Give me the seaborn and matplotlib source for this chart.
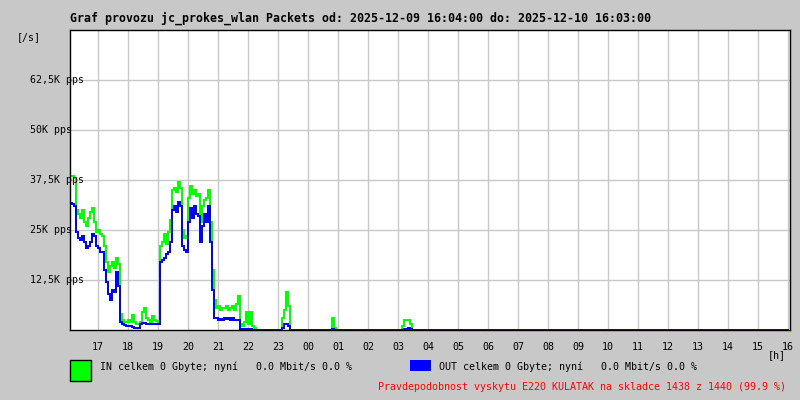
import pandas as pd
import matplotlib.pyplot as plt
import matplotlib.transforms as mtransforms
from matplotlib.patches import Rectangle
import seaborn as sns

title = "Graf provozu jc_prokes_wlan Packets od: 2025-12-09 16:04:00 do: 2025-12-10 16:03:00"
start = "2025-12-09 16:04"
first_hour = "2025-12-09 17:00"
hour_labels = ["17", "18", "19", "20", "21", "22", "23", "00", "01", "02", "03", "04",
               "05", "06", "07", "08", "09", "10", "11", "12", "13", "14", "15", "16"]
y_ticks = [12500, 25000, 37500, 50000, 62500]
y_labels = ["12,5K pps", "25K pps", "37,5K pps", "50K pps", "62,5K pps"]
in_text = "IN celkem 0 Gbyte; nyní   0.0 Mbit/s 0.0 %"
out_text = "OUT celkem 0 Gbyte; nyní   0.0 Mbit/s 0.0 %"
note = "Pravdepodobnost vyskytu E220 KULATAK na skladce 1438 z 1440 (99.9 %)"

# packets per second (thousands), one sample every 4 minutes from 16:04
in_k = ([38.5, 38.5, 38, 30, 29, 28, 30, 27, 26, 28,
         29.5, 30.5, 27, 24.5, 25, 24, 23.5, 21, 17, 14.5,
         16, 17, 15.5, 18, 16.5, 4, 2.5, 2, 2, 2.5,
         2, 3.7, 2, 1.5, 1.5, 2, 4.5, 5.5, 3, 2.5,
         2, 3.5, 2.5, 2.2, 2, 21, 22, 24, 21.5, 24.5,
         27.5, 35, 35.5, 34.5, 37, 35.5, 25, 23, 23.5, 33,
         36, 34, 35, 33.5, 34, 27, 31, 32.5, 33, 35,
         27, 15, 7.5, 5.5, 6, 5, 5.5, 5.5, 6, 5,
         5.5, 6, 5, 6.5, 8.5, 1.5, 1, 2, 4.5, 1.5,
         4.5, 1, 0.5]
        + [0] * 13 + [3, 5, 9.5, 6]
        + [0] * 21 + [3, 0.5]
        + [0] * 33 + [1, 2.5, 2.5, 2.5, 1.5]
        + [0] * 189)
out_k = ([31.7, 31.5, 31, 24.5, 23, 22.5, 23.5, 22, 20.5, 21,
          22, 24, 23.5, 21, 20.5, 19.5, 19.5, 15, 12, 9,
          7.5, 10, 9.5, 14.5, 11, 2, 1.5, 1.2, 1, 1,
          1, 0.8, 0.6, 0.5, 0.5, 1.5, 1.8, 1.8, 1.5, 1.5,
          1.5, 1.5, 1.5, 1.5, 1.5, 17, 17.5, 18, 19, 19.5,
          22, 30, 31, 29.5, 32, 31, 21, 20, 19.5, 27,
          30.5, 28, 31, 29, 28.5, 22, 26, 29, 27, 31,
          22, 10, 3, 3, 2.5, 2.8, 2.5, 3, 2.8, 3,
          2.5, 3, 2.5, 2.5, 2.5, 0.3, 0, 0.3, 0.3, 0.2,
          0.3, 0, 0]
         + [0] * 13 + [0.5, 1.5, 1.5, 1]
         + [0] * 21 + [0.3, 0]
         + [0] * 33 + [0, 0.3, 0.3, 0.5, 0.3]
         + [0] * 189)

times = pd.date_range(start, periods=len(in_k), freq="4min")
df = pd.concat([
    pd.DataFrame({"cas": times, "pps": [v * 1000 for v in in_k], "smer": "IN"}),
    pd.DataFrame({"cas": times, "pps": [v * 1000 for v in out_k], "smer": "OUT"}),
])

sns.set_style("white")
plt.rcParams["font.family"] = ["DejaVu Sans Mono", "DejaVu Sans"]
plt.rcParams["text.color"] = "black"
plt.rcParams["xtick.color"] = "black"
plt.rcParams["ytick.color"] = "black"

W, H = 800, 400
fig = plt.figure(figsize=(8, 4), dpi=100, facecolor="#c8c8c8")
ax = fig.add_axes([70 / W, 1 - 330 / H, 720 / W, 300 / H])
ax.set_facecolor("white")

sns.lineplot(data=df, x="cas", y="pps", hue="smer",
             palette={"IN": "#00ff00", "OUT": "#0000ff"},
             drawstyle="steps-post", linewidth=1.1, antialiased=False,
             legend=False, ax=ax)

ax.set_xlim(pd.Timestamp(start), pd.Timestamp(start) + pd.Timedelta(hours=24))
ax.set_ylim(0, 75000)
hours = pd.date_range(first_hour, periods=len(hour_labels), freq="h")
ax.set_xticks(hours)
ax.set_xticklabels(hour_labels, fontsize=7.2, color="black")
ax.set_yticks(y_ticks)
ax.set_yticklabels([])
ax.tick_params(length=0, pad=9)
ax.grid(True, color="#c8c8c8", linewidth=1)
ax.set_axisbelow(True)
ax.set_xlabel("")
ax.set_ylabel("")
for s in ax.spines.values():
    s.set_visible(True)
    s.set_color("black")
    s.set_linewidth(1)

trans = mtransforms.blended_transform_factory(ax.transAxes, ax.transData)
for v, lab in zip(y_ticks, y_labels):
    ax.text(-40 / 720, v, lab, transform=trans, ha="left", va="center",
            fontsize=7.2, color="black", clip_on=False, zorder=5)


def fx(x):
    return x / W


def fy(y):
    return 1 - y / H


fig.text(fx(70), fy(18), title, fontsize=8.4, fontweight="bold", va="center", ha="left", color="black")
fig.text(fx(17), fy(37), "[/s]", fontsize=7.2, va="center", ha="left", color="black")
fig.text(fx(786), fy(355), "[h]", fontsize=7.2, va="center", ha="right", color="black")

fig.patches.append(Rectangle((fx(70), fy(381)), 21 / W, 21 / H, transform=fig.transFigure,
                             facecolor="#00ff00", edgecolor="black", linewidth=1))
fig.patches.append(Rectangle((fx(410), fy(371)), 21 / W, 11 / H, transform=fig.transFigure,
                             facecolor="#0000ff", edgecolor="none"))
fig.text(fx(100), fy(367), in_text, fontsize=7.2, va="center", ha="left", color="black")
fig.text(fx(439), fy(367), out_text, fontsize=7.2, va="center", ha="left", color="black")
fig.text(fx(786), fy(387), note, fontsize=7.2, va="center", ha="right", color="#ff0000")

fig.savefig("out.png", dpi=100, facecolor=fig.get_facecolor())
